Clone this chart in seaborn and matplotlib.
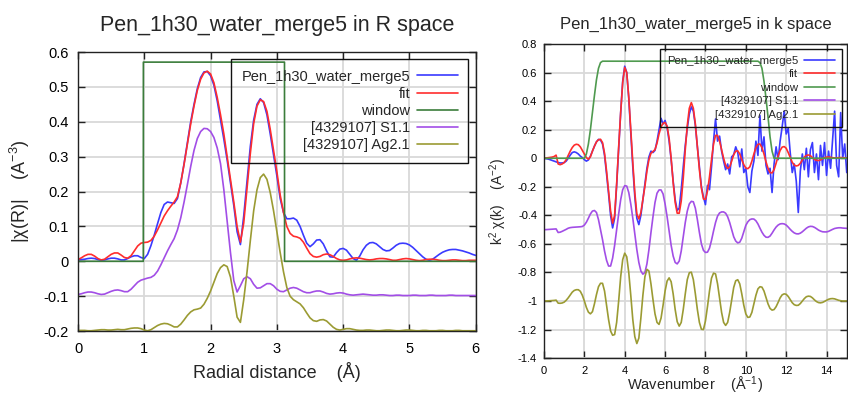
import numpy as np
import matplotlib
matplotlib.use("Agg")
import matplotlib.pyplot as plt
import seaborn as sns
from matplotlib.ticker import FuncFormatter, MultipleLocator

# ---- R space: |chi(R)|, grid step 0.05 A ----
r = np.round(np.arange(0, 6.001, 0.05), 2)

chir_data = [
    0.004, 0.005, 0.006, 0.008, 0.009, 0.008, 0.005, 0.003, 0.004, 0.007,
    0.009, 0.009, 0.007, 0.004, 0.004, 0.008, 0.013, 0.016, 0.016, 0.011,
    0.008, 0.020, 0.045, 0.075, 0.108, 0.140, 0.163, 0.170, 0.168, 0.166,
    0.180, 0.225, 0.280, 0.340, 0.400, 0.450, 0.495, 0.527, 0.543, 0.544,
    0.532, 0.505, 0.460, 0.405, 0.350, 0.290, 0.225, 0.160, 0.085, 0.048,
    0.130, 0.230, 0.330, 0.405, 0.450, 0.466, 0.455, 0.420, 0.365, 0.305,
    0.245, 0.180, 0.140, 0.122, 0.122, 0.124, 0.118, 0.100, 0.075, 0.052,
    0.042, 0.050, 0.061, 0.062, 0.050, 0.030, 0.013, 0.012, 0.025, 0.035,
    0.037, 0.032, 0.020, 0.008, 0.003, 0.015, 0.033, 0.046, 0.053, 0.054,
    0.050, 0.042, 0.034, 0.030, 0.031, 0.038, 0.046, 0.051, 0.052, 0.051,
    0.047, 0.040, 0.031, 0.022, 0.013, 0.006, 0.003, 0.006, 0.013, 0.020,
    0.026, 0.030, 0.033, 0.034, 0.034, 0.032, 0.030, 0.027, 0.024, 0.020,
    0.017,
]
chir_fit = [
    0.005, 0.010, 0.016, 0.020, 0.020, 0.015, 0.008, 0.004, 0.006, 0.013,
    0.020, 0.024, 0.024, 0.018, 0.011, 0.009, 0.016, 0.030, 0.044, 0.052,
    0.054, 0.055, 0.060, 0.072, 0.090, 0.110, 0.130, 0.145, 0.158, 0.170,
    0.185, 0.225, 0.278, 0.336, 0.394, 0.445, 0.490, 0.522, 0.540, 0.545,
    0.537, 0.512, 0.470, 0.420, 0.365, 0.300, 0.235, 0.170, 0.100, 0.055,
    0.110, 0.210, 0.310, 0.395, 0.445, 0.463, 0.458, 0.430, 0.378, 0.318,
    0.257, 0.190, 0.140, 0.100, 0.080, 0.072, 0.070, 0.066, 0.055, 0.038,
    0.022, 0.014, 0.012, 0.014, 0.019, 0.021, 0.019, 0.014, 0.008, 0.004,
    0.003, 0.004, 0.007, 0.009, 0.010, 0.009, 0.007, 0.005, 0.004, 0.005,
    0.007, 0.008, 0.008, 0.007, 0.005, 0.003, 0.003, 0.005, 0.007, 0.008,
    0.007, 0.005, 0.003, 0.002, 0.003, 0.005, 0.006, 0.006, 0.005, 0.003,
    0.002, 0.002, 0.003, 0.004, 0.004, 0.003, 0.002, 0.002, 0.003, 0.003,
    0.003,
]
chir_s = [
    -0.095, -0.093, -0.090, -0.088, -0.088, -0.090, -0.093, -0.095, -0.094, -0.090,
    -0.086, -0.083, -0.082, -0.084, -0.087, -0.087, -0.080, -0.070, -0.060, -0.054,
    -0.051, -0.048, -0.046, -0.040, -0.028, -0.010, 0.010, 0.030, 0.048, 0.065,
    0.090, 0.125, 0.170, 0.220, 0.272, 0.318, 0.352, 0.372, 0.381, 0.380,
    0.372, 0.355, 0.325, 0.280, 0.205, 0.115, 0.025, -0.055, -0.088, -0.070,
    -0.050, -0.044, -0.050, -0.066, -0.077, -0.076, -0.070, -0.064, -0.064, -0.070,
    -0.080, -0.086, -0.087, -0.082, -0.077, -0.075, -0.077, -0.082, -0.087, -0.090,
    -0.090, -0.087, -0.085, -0.085, -0.088, -0.092, -0.094, -0.093, -0.091, -0.090,
    -0.091, -0.094, -0.096, -0.097, -0.096, -0.095, -0.094, -0.095, -0.096, -0.097,
    -0.097, -0.096, -0.096, -0.097, -0.098, -0.098, -0.097, -0.097, -0.098, -0.098,
    -0.098, -0.097, -0.097, -0.098, -0.098, -0.098, -0.097, -0.097, -0.098, -0.098,
    -0.098, -0.098, -0.097, -0.097, -0.098, -0.098, -0.098, -0.098, -0.098, -0.098,
    -0.098,
]
chir_ag = [
    -0.198, -0.198, -0.198, -0.199, -0.199, -0.198, -0.197, -0.196, -0.196, -0.197,
    -0.197, -0.196, -0.195, -0.196, -0.196, -0.194, -0.192, -0.191, -0.191, -0.193,
    -0.197, -0.199, -0.196, -0.190, -0.184, -0.180, -0.178, -0.179, -0.183, -0.188,
    -0.188, -0.180, -0.168, -0.155, -0.145, -0.139, -0.137, -0.134, -0.123, -0.106,
    -0.085, -0.060, -0.035, -0.018, -0.010, -0.015, -0.045, -0.100, -0.160, -0.175,
    -0.110, -0.030, 0.060, 0.145, 0.205, 0.240, 0.250, 0.235, 0.197, 0.145,
    0.085, 0.025, -0.030, -0.075, -0.100, -0.110, -0.116, -0.122, -0.133, -0.148,
    -0.162, -0.170, -0.172, -0.168, -0.167, -0.171, -0.180, -0.189, -0.195, -0.197,
    -0.195, -0.193, -0.193, -0.195, -0.197, -0.198, -0.198, -0.197, -0.197, -0.198,
    -0.199, -0.199, -0.198, -0.197, -0.197, -0.198, -0.199, -0.199, -0.198, -0.197,
    -0.197, -0.198, -0.199, -0.199, -0.198, -0.198, -0.199, -0.199, -0.199, -0.198,
    -0.198, -0.199, -0.199, -0.199, -0.198, -0.198, -0.199, -0.199, -0.199, -0.199,
    -0.199,
]
window_r = [0.0, 0.985, 0.986, 3.115, 3.116, 6.0]
window_rv = [0.0, 0.0, 0.571, 0.571, 0.0, 0.0]

# ---- k space: k^2 chi(k), grid step 0.1 1/A ----
k = np.round(np.arange(0, 15.001, 0.1), 1)

chik_data = [
    0.000, -0.002, -0.005, -0.010, -0.015, -0.020, -0.025, -0.030, -0.033, -0.033,
    -0.030, -0.020, 0.000, 0.022, 0.040, 0.045, 0.040, 0.030, 0.015, 0.005,
    -0.010, -0.020, -0.012, 0.015, 0.050, 0.085, 0.115, 0.132, 0.128, 0.100,
    0.020, -0.110, -0.250, -0.400, -0.488, -0.420, -0.190, 0.070, 0.320, 0.540,
    0.645, 0.600, 0.420, 0.180, -0.060, -0.270, -0.420, -0.465, -0.400, -0.290,
    -0.180, -0.070, 0.010, 0.050, 0.040, 0.055, 0.120, 0.200, 0.280, 0.240,
    0.265, 0.215, 0.120, -0.010, -0.160, -0.290, -0.365, -0.350, -0.220, -0.060,
    0.090, 0.210, 0.310, 0.360, 0.330, 0.230, 0.080, -0.060, -0.200, -0.270,
    -0.325, -0.190, -0.220, -0.060, 0.120, 0.275, 0.120, 0.155, 0.050, -0.020,
    -0.080, -0.040, -0.110, 0.010, 0.025, 0.080, 0.040, -0.060, 0.065, -0.100,
    -0.070, -0.200, -0.240, -0.090, -0.020, 0.120, 0.020, 0.300, 0.050, 0.150,
    -0.050, -0.110, -0.070, -0.240, -0.040, 0.080, -0.010, 0.120, 0.220, 0.330,
    0.170, 0.210, 0.040, -0.100, -0.040, -0.160, -0.380, -0.090, 0.030, -0.080,
    0.070, -0.130, 0.060, 0.110, -0.100, 0.030, -0.150, 0.090, -0.050, 0.110,
    -0.120, 0.050, -0.070, 0.130, 0.330, -0.050, -0.130, 0.320, 0.000, 0.100,
    -0.100,
]
chik_fit = [
    0.000, 0.002, 0.004, 0.006, 0.008, 0.012, 0.022, -0.040, -0.045, -0.040,
    -0.030, -0.010, 0.020, 0.050, 0.075, 0.092, 0.098, 0.095, 0.080, 0.055,
    0.030, 0.005, -0.007, 0.010, 0.050, 0.085, 0.115, 0.130, 0.133, 0.110,
    0.035, -0.090, -0.230, -0.370, -0.455, -0.400, -0.180, 0.080, 0.320, 0.530,
    0.636, 0.600, 0.430, 0.200, -0.030, -0.240, -0.390, -0.425, -0.380, -0.290,
    -0.197, -0.090, -0.010, 0.035, 0.048, 0.060, 0.106, 0.170, 0.220, 0.245,
    0.250, 0.225, 0.140, 0.000, -0.170, -0.310, -0.385, -0.385, -0.300, -0.140,
    0.060, 0.230, 0.350, 0.390, 0.350, 0.240, 0.080, -0.080, -0.210, -0.285,
    -0.288, -0.230, -0.130, -0.010, 0.100, 0.160, 0.160, 0.120, 0.060, 0.000,
    -0.050, -0.072, -0.060, -0.020, 0.025, 0.050, 0.052, 0.030, -0.010, -0.045,
    -0.068, -0.073, -0.060, -0.020, 0.030, 0.075, 0.098, 0.100, 0.075, 0.030,
    -0.025, -0.070, -0.100, -0.103, -0.080, -0.035, 0.015, 0.055, 0.078, 0.082,
    0.070, 0.040, 0.005, -0.028, -0.048, -0.054, -0.050, -0.035, -0.012, 0.008,
    0.020, 0.023, 0.018, 0.005, -0.008, -0.015, -0.016, -0.012, -0.004, 0.004,
    0.008, 0.009, 0.007, 0.004, 0.002, 0.002, 0.004, 0.005, 0.004, 0.003,
    0.002,
]
chik_s = [
    -0.500, -0.500, -0.499, -0.498, -0.497, -0.496, -0.495, -0.520, -0.518, -0.512,
    -0.505, -0.498, -0.490, -0.486, -0.484, -0.483, -0.482, -0.481, -0.480, -0.478,
    -0.468, -0.448, -0.420, -0.390, -0.370, -0.366, -0.380, -0.430, -0.500, -0.570,
    -0.650, -0.715, -0.755, -0.755, -0.700, -0.610, -0.500, -0.390, -0.290, -0.220,
    -0.192, -0.195, -0.240, -0.320, -0.420, -0.530, -0.640, -0.730, -0.790, -0.812,
    -0.800, -0.740, -0.640, -0.520, -0.410, -0.310, -0.245, -0.222, -0.222, -0.250,
    -0.320, -0.410, -0.510, -0.610, -0.685, -0.730, -0.740, -0.720, -0.650, -0.550,
    -0.450, -0.370, -0.320, -0.302, -0.305, -0.350, -0.430, -0.520, -0.600, -0.645,
    -0.660, -0.658, -0.630, -0.575, -0.510, -0.450, -0.405, -0.383, -0.376, -0.376,
    -0.385, -0.410, -0.450, -0.500, -0.550, -0.580, -0.593, -0.588, -0.560, -0.515,
    -0.470, -0.445, -0.430, -0.425, -0.426, -0.438, -0.460, -0.490, -0.518, -0.540,
    -0.553, -0.554, -0.545, -0.525, -0.502, -0.482, -0.468, -0.460, -0.458, -0.460,
    -0.468, -0.482, -0.498, -0.512, -0.523, -0.529, -0.530, -0.525, -0.515, -0.502,
    -0.490, -0.481, -0.477, -0.478, -0.484, -0.493, -0.503, -0.510, -0.515, -0.516,
    -0.516, -0.512, -0.505, -0.498, -0.492, -0.489, -0.487, -0.487, -0.489, -0.490,
    -0.491,
]
chik_ag = [
    -1.000, -1.000, -0.999, -0.998, -0.997, -0.996, -0.994, -1.015, -1.016, -1.014,
    -1.008, -0.995, -0.978, -0.958, -0.938, -0.926, -0.921, -0.921, -0.932, -0.960,
    -1.000, -1.045, -1.078, -1.090, -1.075, -1.020, -0.955, -0.900, -0.876, -0.876,
    -0.930, -1.030, -1.130, -1.210, -1.240, -1.235, -1.150, -1.000, -0.830, -0.710,
    -0.665, -0.690, -0.800, -0.960, -1.130, -1.250, -1.298, -1.260, -1.120, -0.960,
    -0.830, -0.778, -0.790, -0.880, -0.990, -1.090, -1.150, -1.164, -1.120, -1.030,
    -0.930, -0.860, -0.838, -0.865, -0.950, -1.060, -1.145, -1.176, -1.150, -1.060,
    -0.950, -0.850, -0.802, -0.798, -0.850, -0.950, -1.060, -1.150, -1.198, -1.200,
    -1.140, -1.040, -0.930, -0.840, -0.805, -0.810, -0.880, -0.980, -1.080, -1.150,
    -1.171, -1.150, -1.080, -0.990, -0.905, -0.858, -0.851, -0.880, -0.950, -1.030,
    -1.090, -1.115, -1.112, -1.080, -1.020, -0.960, -0.915, -0.900, -0.903, -0.930,
    -0.975, -1.020, -1.052, -1.064, -1.060, -1.040, -1.010, -0.978, -0.957, -0.950,
    -0.953, -0.968, -0.990, -1.012, -1.026, -1.031, -1.030, -1.018, -1.000, -0.983,
    -0.970, -0.966, -0.968, -0.978, -0.992, -1.004, -1.011, -1.013, -1.010, -1.003,
    -0.995, -0.988, -0.984, -0.983, -0.985, -0.990, -0.995, -0.998, -1.000, -1.000,
    -1.000,
]
window_k = [0.0, 2.0, 2.1, 2.2, 2.3, 2.4, 2.5, 2.6, 2.7, 2.8, 2.9,
            10.6, 10.7, 10.8, 10.9, 11.0, 11.1, 11.2, 11.3, 11.4, 15.0]
window_kv = [0.0, 0.0, 0.03, 0.10, 0.20, 0.32, 0.44, 0.55, 0.63, 0.67, 0.68,
             0.68, 0.67, 0.63, 0.54, 0.42, 0.29, 0.15, 0.05, 0.0, 0.0]

labels = ["Pen_1h30_water_merge5", "fit", "window",
          "[4329107] S1.1", "[4329107] Ag2.1"]
colors = ["#3a3aff", "#ff2d2d", None, "#a24ee6", "#9b9b33"]

sns.set_theme(style="white")
plt.rcParams["font.family"] = ["Liberation Sans", "DejaVu Sans"]
plt.rcParams["mathtext.fontset"] = "custom"
plt.rcParams["mathtext.rm"] = "Liberation Sans"
plt.rcParams["mathtext.it"] = "Liberation Sans:italic"

fig = plt.figure(figsize=(8.48, 3.97), dpi=100)
ax_r = fig.add_axes([0.092, 0.166, 0.469, 0.703])
ax_k = fig.add_axes([0.6415, 0.098, 0.357, 0.791])


def draw(ax, x, w_x, w_y, curves, win_color):
    for lab, ys, col in zip(labels, curves, colors):
        if ys is None:
            sns.lineplot(x=w_x, y=w_y, ax=ax, color=win_color, lw=1.2,
                         label=lab, estimator=None, sort=False)
        else:
            sns.lineplot(x=x, y=ys, ax=ax, color=col, lw=1.2, label=lab,
                         estimator=None, sort=False)


def style(ax, fs, pad_x, pad_y):
    ax.grid(True, color="#d9d9d9", lw=1.3)
    ax.set_axisbelow(True)
    for sp in ax.spines.values():
        sp.set_color("#222222")
        sp.set_linewidth(1.0)
    ax.tick_params(direction="in", bottom=True, left=True, top=True,
                   right=True, length=5, width=1, labelsize=fs,
                   color="#222222", labelcolor="black")
    ax.tick_params(axis="x", pad=pad_x)
    ax.tick_params(axis="y", pad=pad_y)
    ax.yaxis.set_major_formatter(FuncFormatter(lambda v, p: f"{round(v, 2):g}"))


def legend(ax, fs, spacing, bpad, apad, hlen):
    leg = ax.legend(loc="upper right", markerfirst=False, fontsize=fs,
                    frameon=True, fancybox=False, framealpha=1,
                    edgecolor="#111111", handlelength=hlen, handletextpad=0.5,
                    labelspacing=spacing, borderpad=bpad, borderaxespad=apad)
    leg.get_frame().set_facecolor("none")
    leg.get_frame().set_linewidth(1.0)


draw(ax_r, r, window_r, window_rv,
     [chir_data, chir_fit, None, chir_s, chir_ag], "#3b7d3b")
ax_r.set_xlim(0, 6)
ax_r.set_ylim(-0.2, 0.6)
ax_r.xaxis.set_major_locator(MultipleLocator(1))
ax_r.yaxis.set_major_locator(MultipleLocator(0.1))
style(ax_r, 10.5, 8, 7)
ax_r.set_title("Pen_1h30_water_merge5 in R space", fontsize=15.5, pad=15)
ax_r.set_xlabel("Radial distance    (Å)", fontsize=13, labelpad=4)
ax_r.set_ylabel(r"|χ(R)|    (A$^{-3}$)", fontsize=13, labelpad=8)
legend(ax_r, 10.5, 0.22, 0.7, 0.5, 2.8)

draw(ax_k, k, window_k, window_kv,
     [chik_data, chik_fit, None, chik_s, chik_ag], "#4f9a4f")
ax_k.set_xlim(0, 15)
ax_k.set_ylim(-1.4, 0.8)
ax_k.xaxis.set_major_locator(MultipleLocator(2))
ax_k.yaxis.set_major_locator(MultipleLocator(0.2))
style(ax_k, 8, 6, 5)
ax_k.set_title("Pen_1h30_water_merge5 in k space", fontsize=12, pad=11)
ax_k.set_xlabel(r"Wavenumber    (Å$^{-1}$)", fontsize=10.5, labelpad=-1)
ax_k.set_ylabel(r"k$^{2}$ χ(k)    (A$^{-2}$)", fontsize=10, labelpad=6)
legend(ax_k, 8.2, 0.3, 0.6, 0.45, 2.7)

fig.savefig("out.png", dpi=100)
